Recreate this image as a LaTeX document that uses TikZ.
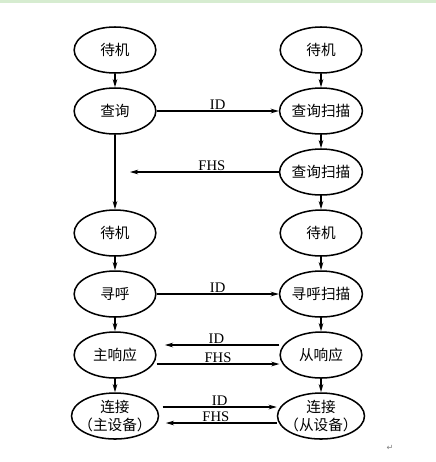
\documentclass[tikz,border=0pt]{standalone}
\usepackage{fontspec}
\setmainfont{Liberation Serif}
\newfontfamily\cjk{Noto Sans CJK SC}
\newfontfamily\symfont{DejaVu Sans}
\usetikzlibrary{shapes.geometric,arrows.meta}
\definecolor{stripgreen}{RGB}{214,236,208}

\begin{document}
\begin{tikzpicture}[x=0.03cm,y=0.03cm,>={Stealth[length=7pt,width=4pt]},line width=1pt,node distance=1.83cm,
  zt/.style={ellipse,draw,line width=1.3pt,minimum width=2.45cm,minimum height=1.38cm,inner sep=0pt,align=center,font=\cjk\fontsize{12.5}{15}\selectfont},
  lj/.style={zt,inner xsep=-5pt,minimum width=2.6cm},
  msg/.style={above,inner sep=1pt,font=\fontsize{12.5}{15}\selectfont}]
\useasboundingbox (-115,50) rectangle (321,-412);
\fill[stripgreen] (-115,50) rectangle (321,47);

% zhu shebei
\node[zt] (dj1) {待机};
\node[zt] (cx) [below of=dj1] {查询};
\node[zt] (dj2) [below of=cx,node distance=3.66cm] {待机};
\node[zt] (xh) [below of=dj2] {寻呼};
\node[zt] (zxy) [below of=xh] {主响应};
\node[lj] (ljz) [below of=zxy] {连接\\（主设备）};

% cong shebei
\node[zt] (dj3) [right of=dj1,node distance=6.18cm] {待机};
\node[zt] (cxsm1) [below of=dj3] {查询扫描};
\node[zt] (cxsm2) [below of=cxsm1] {查询扫描};
\node[zt] (dj4) [below of=cxsm2] {待机};
\node[zt] (xhsm) [below of=dj4] {寻呼扫描};
\node[zt] (cxy) [below of=xhsm] {从响应};
\node[lj] (ljc) [below of=cxy] {连接\\（从设备）};

\path (cx.south |- cxsm2) ++(15,0) coordinate (fhsend);
\node[text=gray,font=\symfont\fontsize{7}{8}\selectfont] (ret) at (275,-398) {↵};

\path[->] (dj1) edge (cx) (cx) edge (dj2) (dj2) edge (xh) (xh) edge (zxy) (zxy) edge (ljz)
(dj3) edge (cxsm1) (cxsm1) edge (cxsm2) (cxsm2) edge (dj4) (dj4) edge (xhsm) (xhsm) edge (cxy) (cxy) edge (ljc);

\path[->] (cx) edge node[msg] {ID} (cxsm1)
(cxsm2) edge node[msg,pos=0.45] {FHS} (fhsend)
(xh) edge node[msg] {ID} (xhsm)
([yshift=0.3cm]cxy.west) edge node[msg,pos=0.55] {ID} ([shift={(0.25cm,0.3cm)}]zxy.east)
([yshift=-0.27cm]zxy.east) edge node[msg] {FHS} ([yshift=-0.27cm]cxy.west)
([shift={(0.1cm,0.27cm)}]ljz.east) edge node[msg] {ID} ([yshift=0.27cm]ljc.west)
([yshift=-0.21cm]ljc.west) edge node[msg,pos=0.55] {FHS} ([shift={(0.2cm,-0.21cm)}]ljz.east);
\end{tikzpicture}
\end{document}
